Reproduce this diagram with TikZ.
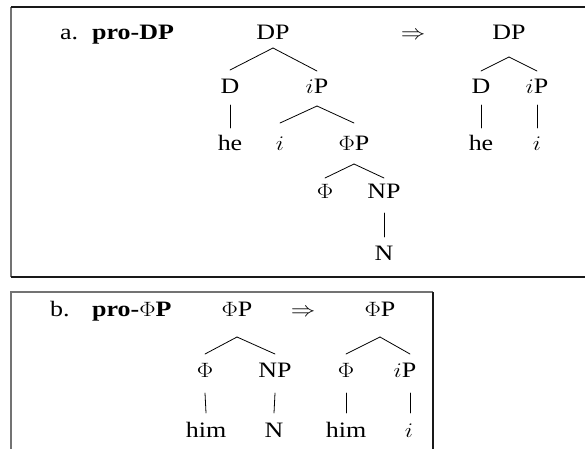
\documentclass[tikz,border=0pt]{standalone}
\usepackage{fontspec}
\usepackage{graphicx}
\setmainfont{Liberation Serif}
\newcommand\sxw[1]{\scalebox{1.18}[1]{#1}}
\begin{document}
\begin{tikzpicture}[x=1pt,y=-1pt,
  lab/.style={anchor=base, inner sep=0pt, font=\fontsize{22}{26}\selectfont},
  labw/.style={lab, anchor=base west},
  br/.style={line width=0.8pt, line cap=round},
  lightframe/.style={draw=black!55, line width=1.1pt},
  darkframe/.style={draw=black!90, line width=1.1pt}]
\useasboundingbox (0,0) rectangle (585,448);
\clip (0,0) rectangle (585,448);
% frames
\draw[lightframe] (11,277) -- (11,7);
\draw[darkframe] (11,7) -- (592,7);
\draw[darkframe] (11,277) -- (592,277);
\draw[lightframe] (11,452) -- (11,292) -- (433,292);
\draw[darkframe] (433,292) -- (433,452);
% ---------- box a ----------
\node[labw] (alab) at (60,39) {\sxw{a.}};
\node[labw] (atitle) at (92,39) {\sxw{\textbf{pro-DP}}};
\node[lab] (dp1) at (273,39) {\sxw{DP}};
\node[lab] (d1) at (230,93) {\sxw{D}};
\node[lab] (ip1) at (317,93) {\sxw{$i$P}};
\node[lab] (he1) at (230,150) {\sxw{he}};
\node[lab] (i1) at (280,150) {\sxw{$i$}};
\node[lab] (phip1) at (354,150) {\sxw{$\Phi$P}};
\node[lab] (phi1) at (325,198) {\sxw{$\Phi$}};
\node[lab] (np1) at (384,198) {\sxw{NP}};
\node[lab] (n1) at (384,260) {\sxw{N}};
\node[lab] (arr1) at (413,39) {\sxw{$\Rightarrow$}};
\node[lab] (dp2) at (509,39) {\sxw{DP}};
\node[lab] (d2) at (481,93) {\sxw{D}};
\node[lab] (ip2) at (537,93) {\sxw{$i$P}};
\node[lab] (he2) at (481,150) {\sxw{he}};
\node[lab] (i2) at (537,150) {\sxw{$i$}};
\draw[br] ([yshift=-9pt]dp1.base) -- ([yshift=23pt]d1.base);
\draw[br] ([yshift=-9pt]dp1.base) -- ([yshift=22pt]ip1.base);
\draw[br] ([yshift=-12pt]d1.base) -- ([yshift=22pt]he1.base);
\draw[br] ([yshift=-13pt]ip1.base) -- ([yshift=27pt]i1.base);
\draw[br] ([yshift=-13pt]ip1.base) -- ([yshift=27pt]phip1.base);
\draw[br] ([yshift=-14pt]phip1.base) -- ([yshift=20pt]phi1.base);
\draw[br] ([yshift=-14pt]phip1.base) -- ([yshift=20pt]np1.base);
\draw[br] ([yshift=-15pt]np1.base) -- ([yshift=23pt]n1.base);
\draw[br] ([yshift=-18pt]dp2.base) -- ([yshift=22pt]d2.base);
\draw[br] ([yshift=-18pt]dp2.base) -- ([yshift=22pt]ip2.base);
\draw[br] ([yshift=-12pt]d2.base) -- ([yshift=22pt]he2.base);
\draw[br] ([yshift=-12pt]ip2.base) -- ([yshift=22pt]i2.base);
% ---------- box b ----------
\node[labw] (blab) at (50,316) {\sxw{b.}};
\node[labw] (btitle) at (92,316) {\sxw{\textbf{pro-$\Phi$P}}};
\node[lab] (fp1) at (237,316) {\sxw{$\Phi$P}};
\node[lab] (arr2) at (303,316) {\sxw{$\Rightarrow$}};
\node[lab] (fp2) at (380,316) {\sxw{$\Phi$P}};
\node[lab] (phi3) at (205,377) {\sxw{$\Phi$}};
\node[lab] (np3) at (275,377) {\sxw{NP}};
\node[lab] (him3) at (206,437) {\sxw{him}};
\node[lab] (n3) at (274,437) {\sxw{N}};
\node[lab] (phi4) at (346,377) {\sxw{$\Phi$}};
\node[lab] (ip4) at (405,377) {\sxw{$i$P}};
\node[lab] (him4) at (346,437) {\sxw{him}};
\node[lab] (i4) at (409,437) {\sxw{$i$}};
\draw[br] ([yshift=-21pt]fp1.base) -- ([yshift=23pt]phi3.base);
\draw[br] ([yshift=-21pt]fp1.base) -- ([yshift=23pt]np3.base);
\draw[br] ([yshift=-16pt]phi3.base) -- ([yshift=24pt]him3.base);
\draw[br] ([yshift=-16pt]np3.base) -- ([yshift=24pt]n3.base);
\draw[br] ([yshift=-21pt]fp2.base) -- ([yshift=23pt]phi4.base);
\draw[br] ([xshift=5pt,yshift=23pt]ip4.base) -- ([yshift=-21pt]fp2.base);
\draw[br] ([yshift=-16pt]phi4.base) -- ([yshift=24pt]him4.base);
\draw[br] ([xshift=5pt,yshift=-16pt]ip4.base) -- ([xshift=1pt,yshift=24pt]i4.base);
\end{tikzpicture}
\end{document}
